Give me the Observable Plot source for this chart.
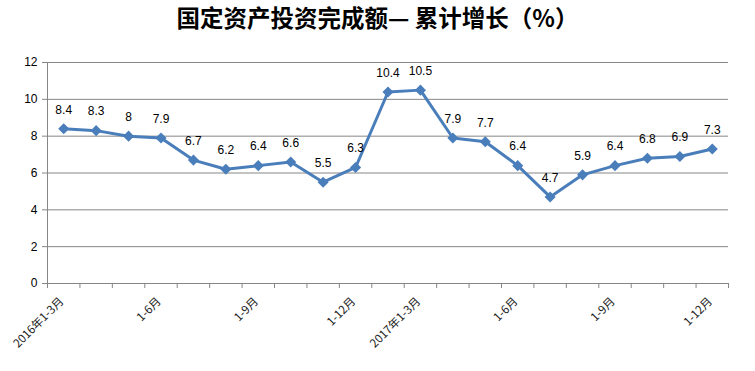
<!DOCTYPE html>
<html><head><meta charset="utf-8">
<script src="https://cdn.jsdelivr.net/npm/d3@7"></script>
<script src="https://cdn.jsdelivr.net/npm/@observablehq/plot@0.6"></script>
<style>
body{margin:0;background:#fff;width:755px;height:371px;overflow:hidden}
#title{height:45px;line-height:49px;text-align:center;font:bold 23.5px "Noto Sans CJK SC",sans-serif;color:#000}
</style></head>
<body><div id="title">国定资产投资完成额— 累计增长（%）</div><div id="chart"></div>
<script>
const values = [8.4, 8.3, 8, 7.9, 6.7, 6.2, 6.4, 6.6, 5.5, 6.3, 10.4, 10.5, 7.9, 7.7, 6.4, 4.7, 5.9, 6.4, 6.8, 6.9, 7.3];
const tickLabels = ["2016年1-3月","","","1-6月","","","1-9月","","","1-12月","","2017年1-3月","","","1-6月","","","1-9月","","","1-12月"];
const yTicks = [0, 2, 4, 6, 8, 10, 12];

const data = values.map((v, i) => ({i, v, label: tickLabels[i]}));
const edges = d3.range(values.length + 1).map(k => k - 0.5);
const axisColor = "#868686";
const lineColor = "#4a7ebb";

const chart = Plot.plot({
  width: 755, height: 326,
  marginLeft: 47, marginRight: 27, marginTop: 17, marginBottom: 88,
  x: {type: "linear", domain: [edges[0], edges[edges.length - 1]], axis: null},
  y: {domain: [yTicks[0], yTicks[yTicks.length - 1]], axis: null},
  style: {fontFamily: "'Liberation Sans', Arial, sans-serif", background: "#fff", overflow: "visible"},
  marks: [
    Plot.ruleY(yTicks, {stroke: axisColor, strokeWidth: 1, insetLeft: -5}),
    Plot.ruleX([edges[0]], {stroke: axisColor, strokeWidth: 1}),
    Plot.axisX({ticks: edges, tickSize: 5, tickFormat: () => "", stroke: axisColor, label: null}),
    Plot.axisY({ticks: yTicks, tickSize: 0, tickPadding: 10, fontSize: 12, fill: "#000", label: null}),
    Plot.text(data.filter(d => d.label), {x: "i", y: yTicks[0], text: "label", rotate: -45, textAnchor: "end", dx: -2, dy: 16, fontSize: 11.5, fill: "#1a1a1a", fontFamily: "'Noto Sans CJK SC', sans-serif"}),
    Plot.line(data, {x: "i", y: "v", stroke: lineColor, strokeWidth: 3}),
    Plot.dot(data, {x: "i", y: "v", symbol: "diamond2", r: 5, fill: lineColor, stroke: "none"}),
    Plot.text(data, {x: "i", y: "v", text: d => String(d.v), dy: -19, fontSize: 12, fill: "#000"})
  ]
});
document.getElementById("chart").appendChild(chart);
</script>
</body></html>
